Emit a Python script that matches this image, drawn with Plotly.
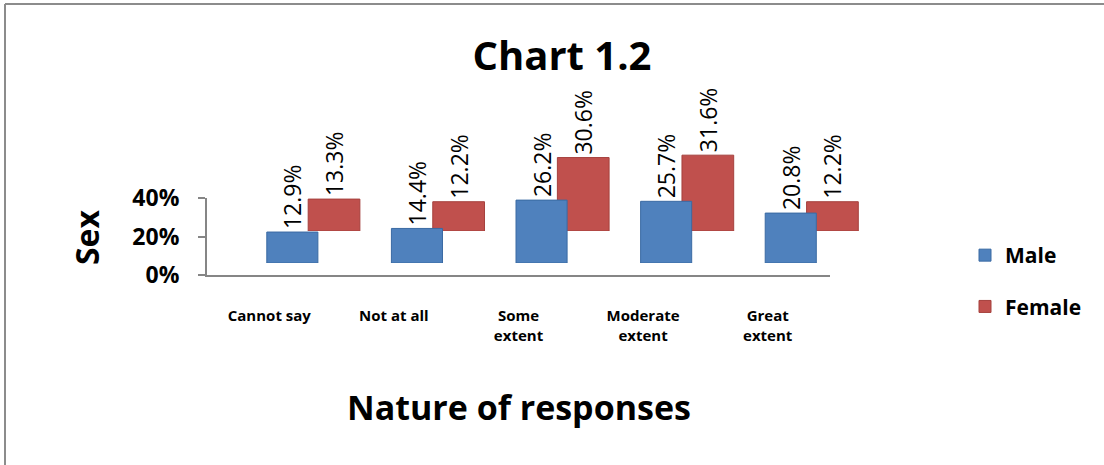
import plotly.graph_objects as go

categories = ["Cannot say", "Not at all", "Some<br>extent", "Moderate<br>extent", "Great<br>extent"]
male = [0.129, 0.144, 0.262, 0.257, 0.208]
female = [0.133, 0.122, 0.306, 0.316, 0.122]
y_ticks = [0, 0.2, 0.4]
y_tick_text = ["0%", "20%", "40%"]

W, H = 1104, 465
def px(x):
    return x / W
def py(y):
    return 1 - y / H

BLUE = "#4F81BD"
RED = "#C0504D"
FONT = "Open Sans"

fig = go.Figure()

# category frame (no visible marks) so the visible x/y axes exist
fig.add_trace(go.Scatter(x=categories, y=[None] * len(categories), xaxis="x", yaxis="y",
                         mode="markers", showlegend=False, hoverinfo="skip"))

# Female (back row)
fig.add_trace(go.Bar(
    x=categories, y=female, name="Female", xaxis="x2", yaxis="y2",
    marker=dict(color=RED, line=dict(color="#A5403D", width=1)),
    offset=-0.025, width=0.415,
    text=[f"{v*100:.1f}%" for v in female], textposition="outside",
    textangle=-90, constraintext="none", cliponaxis=False,
    textfont=dict(family=FONT, size=23, color="black"),
    legendgroup="f", legendrank=2,
))
# Male (front row)
fig.add_trace(go.Bar(
    x=categories, y=male, name="Male", xaxis="x3", yaxis="y3",
    marker=dict(color=BLUE, line=dict(color="#3A6AA3", width=1)),
    offset=-0.02, width=0.41,
    text=[f"{v*100:.1f}%" for v in male], textposition="outside",
    textangle=-90, constraintext="none", cliponaxis=False,
    textfont=dict(family=FONT, size=23, color="black"),
    legendgroup="m", legendrank=1,
))

hidden = dict(visible=False, showgrid=False, zeroline=False, automargin=False)

fig.update_layout(
    width=W, height=H, autosize=False,
    margin=dict(l=0, r=0, t=0, b=0, pad=0),
    paper_bgcolor="white", plot_bgcolor="rgba(0,0,0,0)",
    barmode="overlay",
    title=dict(text="<b>Chart 1.2</b>", x=px(562), y=py(56), xanchor="center", yanchor="middle",
               automargin=False, font=dict(family=FONT, size=40, color="black")),
    xaxis=dict(domain=[px(207), px(830)], range=[-0.5, 4.5], anchor="y", automargin=False,
               showline=True, linecolor="#868686", linewidth=2, ticks="", showgrid=False,
               tickfont=dict(family=FONT, size=15, color="black", weight="bold"),
               ticklabelstandoff=26, categoryorder="array", categoryarray=categories),
    xaxis2=dict(domain=[px(249), px(872)], range=[-0.5, 4.5], anchor="y2",
                categoryorder="array", categoryarray=categories, **hidden),
    xaxis3=dict(domain=[px(207), px(830)], range=[-0.5, 4.5], anchor="y3",
                categoryorder="array", categoryarray=categories, **hidden),
    yaxis=dict(domain=[py(275), py(198)], range=[0, 0.4], anchor="x", automargin=False,
               tickvals=y_ticks, ticktext=y_tick_text, showline=True, linecolor="#868686",
               linewidth=2, ticks="outside", ticklen=7, tickcolor="#868686", tickwidth=2,
               showgrid=False, zeroline=False, ticklabelstandoff=14,
               tickfont=dict(family=FONT, size=23, color="black", weight="bold")),
    yaxis2=dict(domain=[py(231), py(135)], range=[0, 0.4], anchor="x2", **hidden),
    yaxis3=dict(domain=[py(263), py(167)], range=[0, 0.4], anchor="x3", **hidden),
    legend=dict(x=px(965), y=py(235), xanchor="left", yanchor="top",
                font=dict(family=FONT, size=21, color="black", weight="bold"),
                tracegroupgap=21, traceorder="grouped", bgcolor="rgba(0,0,0,0)"),
    annotations=[
        dict(text="<b>Sex</b>", x=px(87), y=py(237), xref="paper", yref="paper",
             showarrow=False, textangle=-90, xanchor="center", yanchor="middle",
             font=dict(family=FONT, size=32, color="black")),
        dict(text="<b>Nature of responses</b>", x=px(519), y=py(407), xref="paper", yref="paper",
             showarrow=False, xanchor="center", yanchor="middle",
             font=dict(family=FONT, size=34, color="black")),
    ],
    shapes=[
        dict(type="line", xref="paper", yref="paper", x0=px(5), x1=px(5), y0=0, y1=py(4),
             line=dict(color="#8c8c8c", width=2)),
        dict(type="line", xref="paper", yref="paper", x0=px(5), x1=1, y0=py(4), y1=py(4),
             line=dict(color="#8c8c8c", width=2)),
    ],
)

fig.write_html("out.html", config={"displayModeBar": False},
               post_script="document.body.style.margin='0';document.body.style.overflow='hidden';")
